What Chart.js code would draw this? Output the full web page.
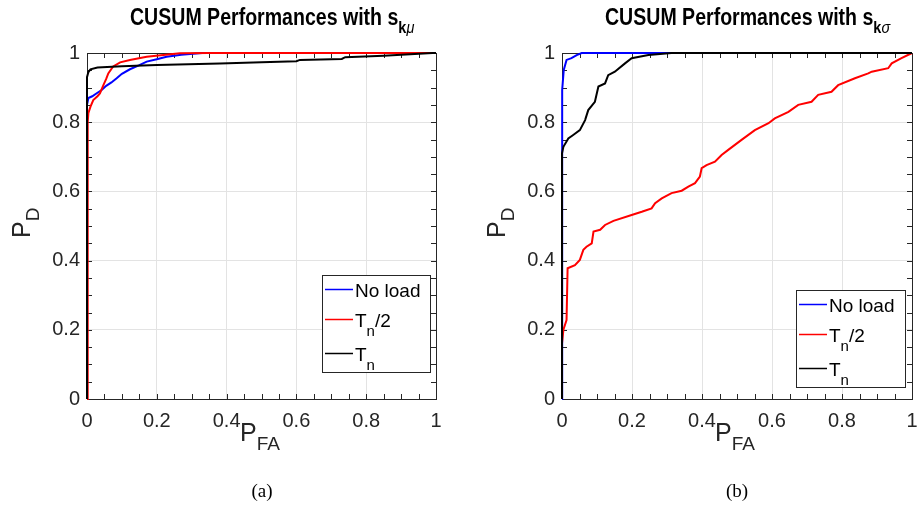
<!DOCTYPE html>
<html>
<head>
<meta charset="utf-8">
<script src="https://cdn.jsdelivr.net/npm/chart.js@4.4.0/dist/chart.umd.min.js"></script>
<style>
  body { margin: 0; background: #fff; }
  #wrap { position: relative; width: 922px; height: 521px; overflow: hidden; font-family: "Liberation Sans", Arial, sans-serif; }
  canvas { position: absolute; top: 0; }
  .title { position: absolute; top: 4px; font-weight: bold; font-size: 23px; color: #000; white-space: nowrap; transform: scaleX(0.85); transform-origin: 0 0; }
  .title sub { font-size: 17px; vertical-align: -8px; }
  .title sub i { font-weight: normal; }
  .lab { position: absolute; font-size: 25px; color: #262626; white-space: nowrap; }
  .lab sub { font-size: 19px; vertical-align: -9px; }
  .ylab { transform: rotate(-90deg); transform-origin: 0 0; }
  .cap { position: absolute; top: 480px; font-family: "Liberation Serif", "DejaVu Serif", serif; font-size: 19px; color: #000; width: 60px; text-align: center; }
</style>
</head>
<body>
<div id="wrap">
  <canvas id="chartA" width="461" height="470" style="left:0"></canvas>
  <canvas id="chartB" width="471" height="470" style="left:461px"></canvas>

  <div class="title" style="left:130px">CUSUM Performances with s<sub>k<i>μ</i></sub></div>
  <div class="title" style="left:605px">CUSUM Performances with s<sub>k<i>σ</i></sub></div>

  <div class="lab ylab" style="left:7px;top:238px">P<sub>D</sub></div>
  <div class="lab ylab" style="left:482px;top:238px">P<sub>D</sub></div>
  <div class="lab" style="left:240px;top:418px">P<sub>FA</sub></div>
  <div class="lab" style="left:715px;top:418px">P<sub>FA</sub></div>

  <div class="cap" style="left:232px">(a)</div>
  <div class="cap" style="left:707px">(b)</div>
</div>

<script>
// ---- data ----
const seriesNames = ["No load", "T_n/2", "T_n"];
const seriesColors = ["#0000ff", "#ff0000", "#000000"];
const tickValues = [0, 0.2, 0.4, 0.6, 0.8, 1];
const tickLabels = ["0", "0.2", "0.4", "0.6", "0.8", "1"];

// (a) s_k mu
const noLoadA_x = [0, 0, 0.004, 0.015, 0.03, 0.042, 0.055, 0.07, 0.085, 0.1, 0.123, 0.15, 0.171, 0.2, 0.228, 0.27, 0.33, 1];
const noLoadA_y = [0, 0.85, 0.87, 0.875, 0.885, 0.893, 0.905, 0.915, 0.927, 0.94, 0.953, 0.965, 0.975, 0.982, 0.989, 0.995, 1, 1];
const halfA_x = [0, 0.002, 0.004, 0.01, 0.018, 0.03, 0.037, 0.047, 0.055, 0.061, 0.075, 0.095, 0.123, 0.171, 0.266, 0.35, 1];
const halfA_y = [0, 0.8, 0.827, 0.845, 0.864, 0.875, 0.883, 0.907, 0.925, 0.941, 0.961, 0.973, 0.98, 0.989, 0.999, 1, 1];
const fullA_x = [0, 0, 0.004, 0.01, 0.03, 0.1, 0.2, 0.381, 0.5, 0.6, 0.61, 0.73, 0.74, 0.85, 0.99, 1];
const fullA_y = [0, 0.93, 0.945, 0.953, 0.958, 0.962, 0.965, 0.97, 0.973, 0.976, 0.98, 0.983, 0.988, 0.992, 1, 1];

// (b) s_k sigma
const noLoadB_x = [0, 0, 0.001, 0.005, 0.013, 0.027, 0.042, 0.056, 1];
const noLoadB_y = [0, 0.7, 0.893, 0.951, 0.98, 0.985, 0.994, 1, 1];
const halfB_x = [0, 0, 0.004, 0.013, 0.016, 0.037, 0.051, 0.061, 0.07, 0.085, 0.09, 0.109, 0.123, 0.147, 0.199, 0.228, 0.256, 0.266, 0.285, 0.313, 0.342, 0.361, 0.38, 0.394, 0.399, 0.413, 0.437, 0.456, 0.475, 0.513, 0.551, 0.59, 0.608, 0.647, 0.675, 0.713, 0.732, 0.77, 0.789, 0.837, 0.875, 0.885, 0.932, 0.942, 0.97, 1];
const halfB_y = [0, 0.161, 0.2, 0.228, 0.378, 0.387, 0.402, 0.431, 0.44, 0.45, 0.484, 0.489, 0.503, 0.515, 0.532, 0.541, 0.551, 0.566, 0.58, 0.595, 0.602, 0.614, 0.624, 0.643, 0.667, 0.676, 0.686, 0.705, 0.72, 0.749, 0.777, 0.797, 0.811, 0.83, 0.85, 0.859, 0.879, 0.888, 0.907, 0.927, 0.941, 0.946, 0.956, 0.97, 0.985, 1];
const fullB_x = [0, 0, 0.004, 0.018, 0.032, 0.051, 0.066, 0.075, 0.094, 0.104, 0.123, 0.132, 0.151, 0.18, 0.199, 0.247, 0.313, 1];
const fullB_y = [0, 0.71, 0.729, 0.753, 0.763, 0.777, 0.806, 0.835, 0.859, 0.903, 0.912, 0.936, 0.946, 0.97, 0.985, 0.994, 1, 1];

const AXIS = "#262626";
const FONT = "Liberation Sans, Arial, sans-serif";

/* ---------- matlab style box, minor ticks, legend ---------- */
function drawLabel(ctx, label, x, y) {
    // "T_n/2" -> T, subscript n, /2
    const parts = label.split(/_(.)/);
    parts.forEach((p, i) => {
        if (!p) return;
        const sub = i % 2 === 1;
        ctx.font = (sub ? "15px " : "19px ") + FONT;
        ctx.fillText(p, x, sub ? y + 9 : y);
        x += ctx.measureText(p).width;
    });
}

const matlabPlugin = {
    id: "matlabBox",
    beforeDatasetsDraw(chart) {
        const { ctx, chartArea: a, scales } = chart;
        ctx.save();
        ctx.strokeStyle = AXIS;
        ctx.lineWidth = 1;
        ctx.strokeRect(a.left + 0.5, a.top + 0.5, a.right - a.left, a.bottom - a.top);
        ctx.beginPath();
        for (let i = 1; i < 20; i++) {
            const px = Math.round(scales.x.getPixelForValue(i / 20)) + 0.5;
            const py = Math.round(scales.y.getPixelForValue(i / 20)) + 0.5;
            ctx.moveTo(px, a.bottom); ctx.lineTo(px, a.bottom - 5);
            ctx.moveTo(px, a.top); ctx.lineTo(px, a.top + 5);
            ctx.moveTo(a.left, py); ctx.lineTo(a.left + 5, py);
            ctx.moveTo(a.right, py); ctx.lineTo(a.right - 5, py);
        }
        ctx.stroke();
        ctx.restore();
    },
    afterDraw(chart, args, opts) {
        const { ctx, chartArea: a } = chart;
        const bx = a.right - opts.right - opts.w;
        const by = a.bottom - opts.bottom - opts.h;
        ctx.save();
        ctx.fillStyle = "#fff";
        ctx.fillRect(bx, by, opts.w, opts.h);
        ctx.strokeStyle = AXIS;
        ctx.lineWidth = 1;
        ctx.strokeRect(Math.round(bx) + 0.5, Math.round(by) + 0.5, opts.w, opts.h);
        const rows = [14, 44, 78];
        chart.data.datasets.forEach((ds, i) => {
            const ly = Math.round(by + rows[i]) + 0.5;
            ctx.strokeStyle = ds.borderColor;
            ctx.lineWidth = 1.5;
            ctx.beginPath();
            ctx.moveTo(bx + 3, ly);
            ctx.lineTo(bx + 31, ly);
            ctx.stroke();
            ctx.fillStyle = "#000";
            ctx.textBaseline = "alphabetic";
            drawLabel(ctx, ds.label, bx + 33, by + rows[i] + 8);
        });
        ctx.restore();
    }
};

function makeChart(id, xs, ys, yWidth, padRight, legendBox) {
    const axisOpts = {
        type: "linear",
        min: 0,
        max: 1,
        afterBuildTicks: s => { s.ticks = tickValues.map(v => ({ value: v })); },
        grid: { color: "#e3e3e3", lineWidth: 1, drawTicks: false },
        border: { color: AXIS, width: 1 },
        ticks: {
            color: AXIS,
            font: { family: FONT, size: 20 },
            autoSkip: false,
            maxRotation: 0,
            callback: (v, i) => tickLabels[i]
        }
    };
    new Chart(document.getElementById(id), {
        type: "scatter",
        data: {
            datasets: xs.map((xv, i) => ({
                label: seriesNames[i],
                data: xv.map((x, j) => ({ x: x, y: ys[i][j] })),
                borderColor: seriesColors[i],
                backgroundColor: seriesColors[i],
                borderWidth: 2,
                showLine: true,
                pointRadius: 0,
                tension: 0,
                clip: false,
                order: 3 - i
            }))
        },
        options: {
            responsive: false,
            animation: false,
            devicePixelRatio: 1,
            layout: { padding: { left: 0, right: padRight, top: 53, bottom: 31 } },
            plugins: { legend: { display: false }, tooltip: { enabled: false }, matlabBox: legendBox },
            scales: {
                x: Object.assign({}, axisOpts, {
                    afterFit: s => { s.height = 40; },
                    ticks: Object.assign({}, axisOpts.ticks, { padding: 10 })
                }),
                y: Object.assign({}, axisOpts, {
                    afterFit: s => { s.width = yWidth; },
                    ticks: Object.assign({}, axisOpts.ticks, { padding: 7 })
                })
            }
        },
        plugins: [matlabPlugin]
    });
}

makeChart("chartA", [noLoadA_x, halfA_x, fullA_x], [noLoadA_y, halfA_y, fullA_y], 87, 25,
    { right: 6, bottom: 27, w: 108, h: 97 });
makeChart("chartB", [noLoadB_x, halfB_x, fullB_x], [noLoadB_y, halfB_y, fullB_y], 101, 20,
    { right: 7, bottom: 12, w: 109, h: 97 });
</script>
</body>
</html>
